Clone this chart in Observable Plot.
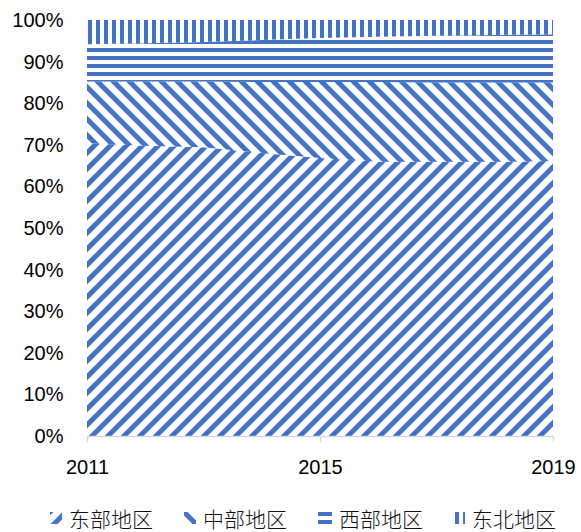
<!DOCTYPE html>
<html>
<head>
<meta charset="utf-8">
<script src="https://cdn.jsdelivr.net/npm/d3@7"></script>
<script src="https://cdn.jsdelivr.net/npm/@observablehq/plot@0.6"></script>
<style>
  body { margin: 0; background: #fff; }
  #wrap { position: relative; width: 581px; height: 532px; background: #fff; overflow: hidden; }
  #legend { position: absolute; left: 0; top: 495px; width: 581px; height: 37px; }
  .item { position: absolute; top: 11px; height: 24px; line-height: 24px; display: flex; align-items: center;
          font-family: "Noto Sans CJK SC", sans-serif; font-size: 21px; color: #111; font-weight: 300; white-space: nowrap; }
  .item span { display: inline-block; line-height: 24px; height: 24px; }
  .item svg { margin-right: 7px; }
</style>
</head>
<body>
<div id="wrap"><div id="chart"></div><div id="legend"></div></div>
<script>
const years = [2011, 2012, 2013, 2014, 2015, 2016, 2017, 2018, 2019];
const series = ["东部地区", "中部地区", "西部地区", "东北地区"];
const east = [70.4, 69.8, 69.4, 68.0, 66.8, 65.9, 65.9, 65.9, 66.1];
const central = [14.8, 15.4, 15.8, 17.1, 18.3, 19.2, 19.1, 19.1, 18.9];
const west = [9.0, 9.2, 9.5, 10.1, 10.6, 10.9, 11.2, 11.4, 11.6];
const northeast = [5.8, 5.6, 5.3, 4.8, 4.3, 4.0, 3.8, 3.6, 3.4];
const yTicks = [0, 10, 20, 30, 40, 50, 60, 70, 80, 90, 100];
const xTicks = [2011, 2015, 2019];

const values = [east, central, west, northeast];
const data = [];
series.forEach((s, i) => years.forEach((y, j) => data.push({ year: y, region: s, value: values[i][j] })));

const blue = "#4472C4";
const patternIds = ["pE", "pC", "pW", "pN"];

const chart = Plot.plot({
  width: 581,
  height: 490,
  marginLeft: 87,
  marginRight: 28,
  marginTop: 20,
  marginBottom: 54,
  style: { background: "#fff", fontFamily: "'Liberation Sans', Arial, sans-serif", fontSize: "20px", color: "#000" },
  x: { domain: [2011, 2019] },
  y: { domain: [0, 100] },
  color: { domain: series, range: patternIds.map(id => `url(#${id})`) },
  marks: [
    Plot.areaY(data, { x: "year", y: "value", fill: "region", z: "region", curve: "linear" }),
    Plot.ruleY([0], { stroke: "#d9d9d9", strokeWidth: 1.3 }),
    Plot.axisY({ ticks: yTicks, tickSize: 0, tickPadding: 24, tickFormat: d => d + "%", label: null, fill: "#000" }),
    Plot.axisX({ ticks: xTicks, tickSize: 6, tickPadding: 17, tickFormat: d => String(d), label: null, stroke: "#d9d9d9", strokeWidth: 1.3, fill: "#000" })
  ]
});

function addDefs(svgEl, suffix) {
  const defs = d3.select(svgEl).insert("defs", ":first-child");
  // East: upward diagonal "/"
  let p = defs.append("pattern").attr("id", "pE" + suffix).attr("patternUnits", "userSpaceOnUse").attr("width", 16).attr("height", 16);
  p.append("rect").attr("width", 16).attr("height", 16).attr("fill", "#fff");
  p.append("path").attr("d", "M-4,4 L4,-4 M0,16 L16,0 M12,20 L20,12").attr("stroke", blue).attr("stroke-width", 5);
  // Central: downward diagonal "\"
  p = defs.append("pattern").attr("id", "pC" + suffix).attr("patternUnits", "userSpaceOnUse").attr("width", 16).attr("height", 16);
  p.append("rect").attr("width", 16).attr("height", 16).attr("fill", "#fff");
  p.append("path").attr("d", "M-4,12 L4,20 M0,0 L16,16 M12,-4 L20,4").attr("stroke", blue).attr("stroke-width", 5);
  // West: horizontal
  p = defs.append("pattern").attr("id", "pW" + suffix).attr("patternUnits", "userSpaceOnUse").attr("width", 8).attr("height", 8);
  p.append("rect").attr("width", 8).attr("height", 8).attr("fill", "#fff");
  p.append("rect").attr("y", 0).attr("width", 8).attr("height", 4).attr("fill", blue);
  // Northeast: vertical
  p = defs.append("pattern").attr("id", "pN" + suffix).attr("patternUnits", "userSpaceOnUse").attr("width", 8).attr("height", 8);
  p.append("rect").attr("width", 8).attr("height", 8).attr("fill", "#fff");
  p.append("rect").attr("x", 0).attr("width", 4).attr("height", 8).attr("fill", blue);
}
addDefs(chart, "");
document.getElementById("chart").appendChild(chart);

// Legend
const legendLefts = [50, 184, 318, 455];
const swW = [12, 12, 14, 10];
const legend = document.getElementById("legend");
const ns = "http://www.w3.org/2000/svg";
series.forEach((s, i) => {
  const div = document.createElement("div");
  div.className = "item";
  div.style.left = legendLefts[i] + "px";
  const sw = document.createElementNS(ns, "svg");
  sw.setAttribute("width", swW[i]);
  sw.setAttribute("height", 12);
  addDefs(sw, "L" + i);
  const r = document.createElementNS(ns, "rect");
  r.setAttribute("width", swW[i]);
  r.setAttribute("height", 12);
  r.setAttribute("fill", `url(#${patternIds[i]}L${i})`);
  sw.appendChild(r);
  div.appendChild(sw);
  const t = document.createElement("span");
  t.textContent = s;
  div.appendChild(t);
  legend.appendChild(div);
});
</script>
</body>
</html>
